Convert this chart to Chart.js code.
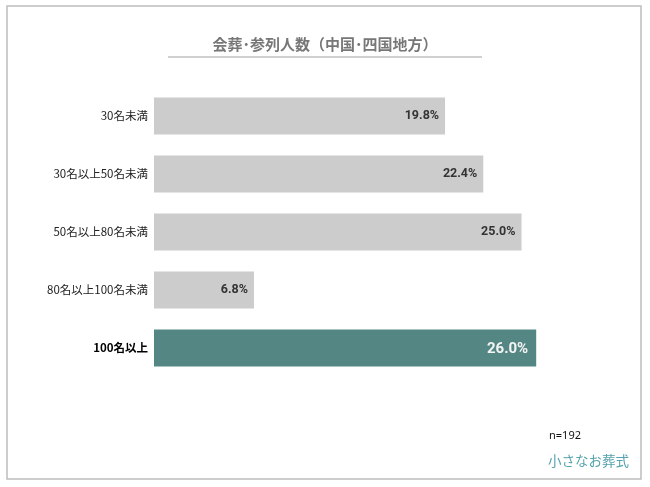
<!DOCTYPE html>
<html><head><meta charset="utf-8">
<script src="https://cdn.jsdelivr.net/npm/chart.js@4"></script>
<style>html,body{margin:0;padding:0;background:#fff;}#wrap{width:650px;height:487px;position:relative;}</style>
</head><body><div id="wrap"><canvas id="c" width="650" height="487"></canvas></div>
<script>
const titleText = '会葬･参列人数（中国･四国地方）';
const categories = ['30名未満','30名以上50名未満','50名以上80名未満','80名以上100名未満','100名以上'];
const values = [19.8, 22.4, 25.0, 6.8, 26.0];
const valueLabels = ['19.8%','22.4%','25.0%','6.8%','26.0%'];
const highlightIndex = 4;
const sampleNote = 'n=192';
const brandText = '小さなお葬式';

const barColors = values.map((v,i)=> i===highlightIndex ? '#548784' : '#cccccc');

const decor = {
  id:'decor',
  beforeDraw(chart){
    const ctx = chart.ctx;
    ctx.save();
    ctx.fillStyle='#fff'; ctx.fillRect(0,0,650,487);
    ctx.strokeStyle='#bdbdbd'; ctx.lineWidth=1.5;
    ctx.strokeRect(7,6,634,473);
    ctx.fillStyle='#777'; ctx.font='bold 15px "Noto Sans CJK JP"';
    ctx.textAlign='center'; ctx.textBaseline='middle';
    ctx.fillText(titleText, 325, 44);
    ctx.strokeStyle='#d0d0d0'; ctx.lineWidth=2;
    ctx.beginPath(); ctx.moveTo(168,57); ctx.lineTo(482,57); ctx.stroke();
    ctx.fillStyle='#111'; ctx.font='11px "Noto Sans", "Noto Sans CJK JP"'; ctx.textAlign='left';
    ctx.fillText(sampleNote, 549, 436);
    ctx.fillStyle='#55a2ad'; ctx.font='13.5px "Noto Sans CJK JP"';
    ctx.fillText(brandText, 548, 461);
    ctx.restore();
  },
  afterDatasetsDraw(chart){
    const ctx = chart.ctx;
    const meta = chart.getDatasetMeta(0);
    ctx.save();
    ctx.textAlign='right'; ctx.textBaseline='middle';
    meta.data.forEach((bar,i)=>{
      if(i===highlightIndex){
        ctx.fillStyle='#f4f4f4'; ctx.font='bold 15px Roboto';
        ctx.fillText(valueLabels[i], bar.x-8, bar.y+1);
      } else {
        ctx.fillStyle='#333'; ctx.font='bold 12.5px Roboto';
        ctx.fillText(valueLabels[i], bar.x-6, bar.y);
      }
    });
    ctx.restore();
  }
};

new Chart(document.getElementById('c'), {
  type:'bar',
  data:{ labels:categories, datasets:[{ data:values, backgroundColor:barColors, borderWidth:0, barPercentage:0.8, categoryPercentage:0.8 }]},
  options:{
    indexAxis:'y', responsive:false, animation:false, devicePixelRatio:1,
    layout:{ padding:{ left:0, right:55, top:87, bottom:110 } },
    plugins:{ legend:{display:false}, tooltip:{enabled:false}, title:{display:false} },
    scales:{
      x:{ display:false, min:0, max:30 },
      y:{
        grid:{display:false, drawTicks:false}, border:{display:false},
        afterFit(s){ s.width = 154; },
        ticks:{ padding:6,
          font:(c)=> c.index===highlightIndex ? {family:'"Noto Sans CJK JP"', size:11.5, weight:'bold'} : {family:'"Noto Sans CJK JP"', size:11.5} ,
          color:(c)=> c.index===highlightIndex ? '#000' : '#222'
        }
      }
    }
  },
  plugins:[decor]
});
</script></body></html>
